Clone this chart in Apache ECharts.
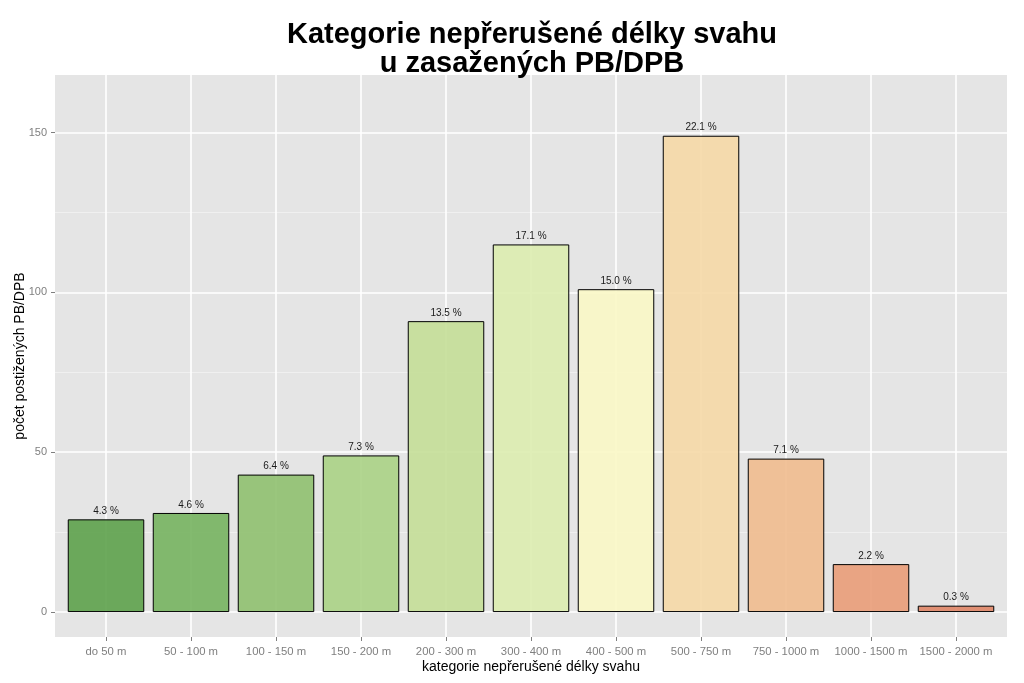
<!DOCTYPE html>
<html>
<head>
<meta charset="utf-8">
<script src="https://cdn.jsdelivr.net/npm/echarts@6/dist/echarts.min.js"></script>
<style>html,body{margin:0;padding:0;background:#fff;}#c{width:1024px;height:683px;}</style>
</head>
<body>
<div id="c"></div>
<script>
const categories = ['do 50 m','50 - 100 m','100 - 150 m','150 - 200 m','200 - 300 m','300 - 400 m','400 - 500 m','500 - 750 m','750 - 1000 m','1000 - 1500 m','1500 - 2000 m'];
const counts = [29, 31, 43, 49, 91, 115, 101, 149, 48, 15, 2];
const barColors = ['#6ba85a','#81b86c','#98c47b','#b0d38f','#c7df9f','#ddebb4','#f7f5c8','#f3d9ac','#efbf97','#e9a383','#e08f73'];
const yTicks = [0, 50, 100, 150];
const yMinor = [25, 75, 125];

const total = counts.reduce((a, b) => a + b, 0);
const xIdx = categories.map((c, i) => i);

// semi-transparent fill over grey panel (alpha 0.9), so the grid shows faintly through
const ALPHA = 0.9, PANEL = 229;
function fillOf(hex) {
  const n = parseInt(hex.slice(1), 16);
  const ch = [(n >> 16) & 255, (n >> 8) & 255, n & 255].map(c => Math.max(0, Math.min(255, Math.round((c - (1 - ALPHA) * PANEL) / ALPHA))));
  return 'rgba(' + ch.join(',') + ',' + ALPHA + ')';
}

const chart = echarts.init(document.getElementById('c'));
const font = 'Liberation Sans, Arial, sans-serif';

const gridLines = [];
yMinor.forEach(v => gridLines.push({yAxis: v, lineStyle: {color: '#f2f2f2', width: 0.8, type: 'solid'}}));
yTicks.forEach(v => gridLines.push({yAxis: v, lineStyle: {color: '#ffffff', width: 1.6, type: 'solid'}}));
xIdx.forEach(v => gridLines.push({xAxis: v, lineStyle: {color: '#ffffff', width: 1.6, type: 'solid'}}));

const hiddenLine = {show: true, onZero: false, lineStyle: {color: 'rgba(0,0,0,0)', width: 0}};

chart.setOption({
  animation: false,
  backgroundColor: '#ffffff',
  title: {
    text: 'Kategorie nepřerušené délky svahu\nu zasažených PB/DPB',
    left: 527, top: 15, textAlign: 'center',
    textStyle: {fontFamily: font, fontWeight: 'bold', fontSize: 29, lineHeight: 29, color: '#000'}
  },
  grid: {left: 55, right: 17, top: 75, bottom: 46, show: true, backgroundColor: '#e5e5e5', borderWidth: 0, outerBoundsMode: 'none', containLabel: false},
  xAxis: {
    type: 'value', min: -0.6, max: 10.6,
    name: 'kategorie nepřerušené délky svahu', nameLocation: 'middle', nameGap: 23, nameMoveOverlap: false,
    nameTextStyle: {fontFamily: font, fontSize: 14, color: '#000'},
    axisLine: hiddenLine,
    axisTick: {show: true, customValues: xIdx, length: 4, lineStyle: {color: '#7f7f7f', width: 1}},
    axisLabel: {customValues: xIdx, formatter: v => categories[Math.round(v)], fontFamily: font, fontSize: 11.3, color: '#7f7f7f', margin: 9},
    splitLine: {show: false}
  },
  yAxis: {
    type: 'value', min: -7.8, max: 168,
    name: 'počet postižených PB/DPB', nameLocation: 'middle', nameGap: 28, nameRotate: 90, nameMoveOverlap: false,
    nameTextStyle: {fontFamily: font, fontSize: 14, color: '#000'},
    axisLine: hiddenLine,
    axisTick: {show: true, customValues: yTicks, length: 4, lineStyle: {color: '#7f7f7f', width: 1}},
    axisLabel: {customValues: yTicks, fontFamily: font, fontSize: 11, color: '#7f7f7f', margin: 8},
    splitLine: {show: false}
  },
  series: [
    {
      type: 'line', data: [], silent: true, z: 1,
      markLine: {z: 1, silent: true, symbol: 'none', label: {show: false}, animation: false, data: gridLines}
    },
    {
      type: 'bar', z: 3, barWidth: 76.5,
      data: counts.map((v, i) => ({value: [i, v], itemStyle: {color: fillOf(barColors[i])}})),
      itemStyle: {borderColor: '#000', borderWidth: 1},
      label: {
        show: true, position: 'top', distance: 3,
        formatter: p => (p.value[1] / total * 100).toFixed(1) + ' %',
        fontFamily: font, fontSize: 10, color: '#1a1a1a'
      }
    }
  ]
});
</script>
</body>
</html>
